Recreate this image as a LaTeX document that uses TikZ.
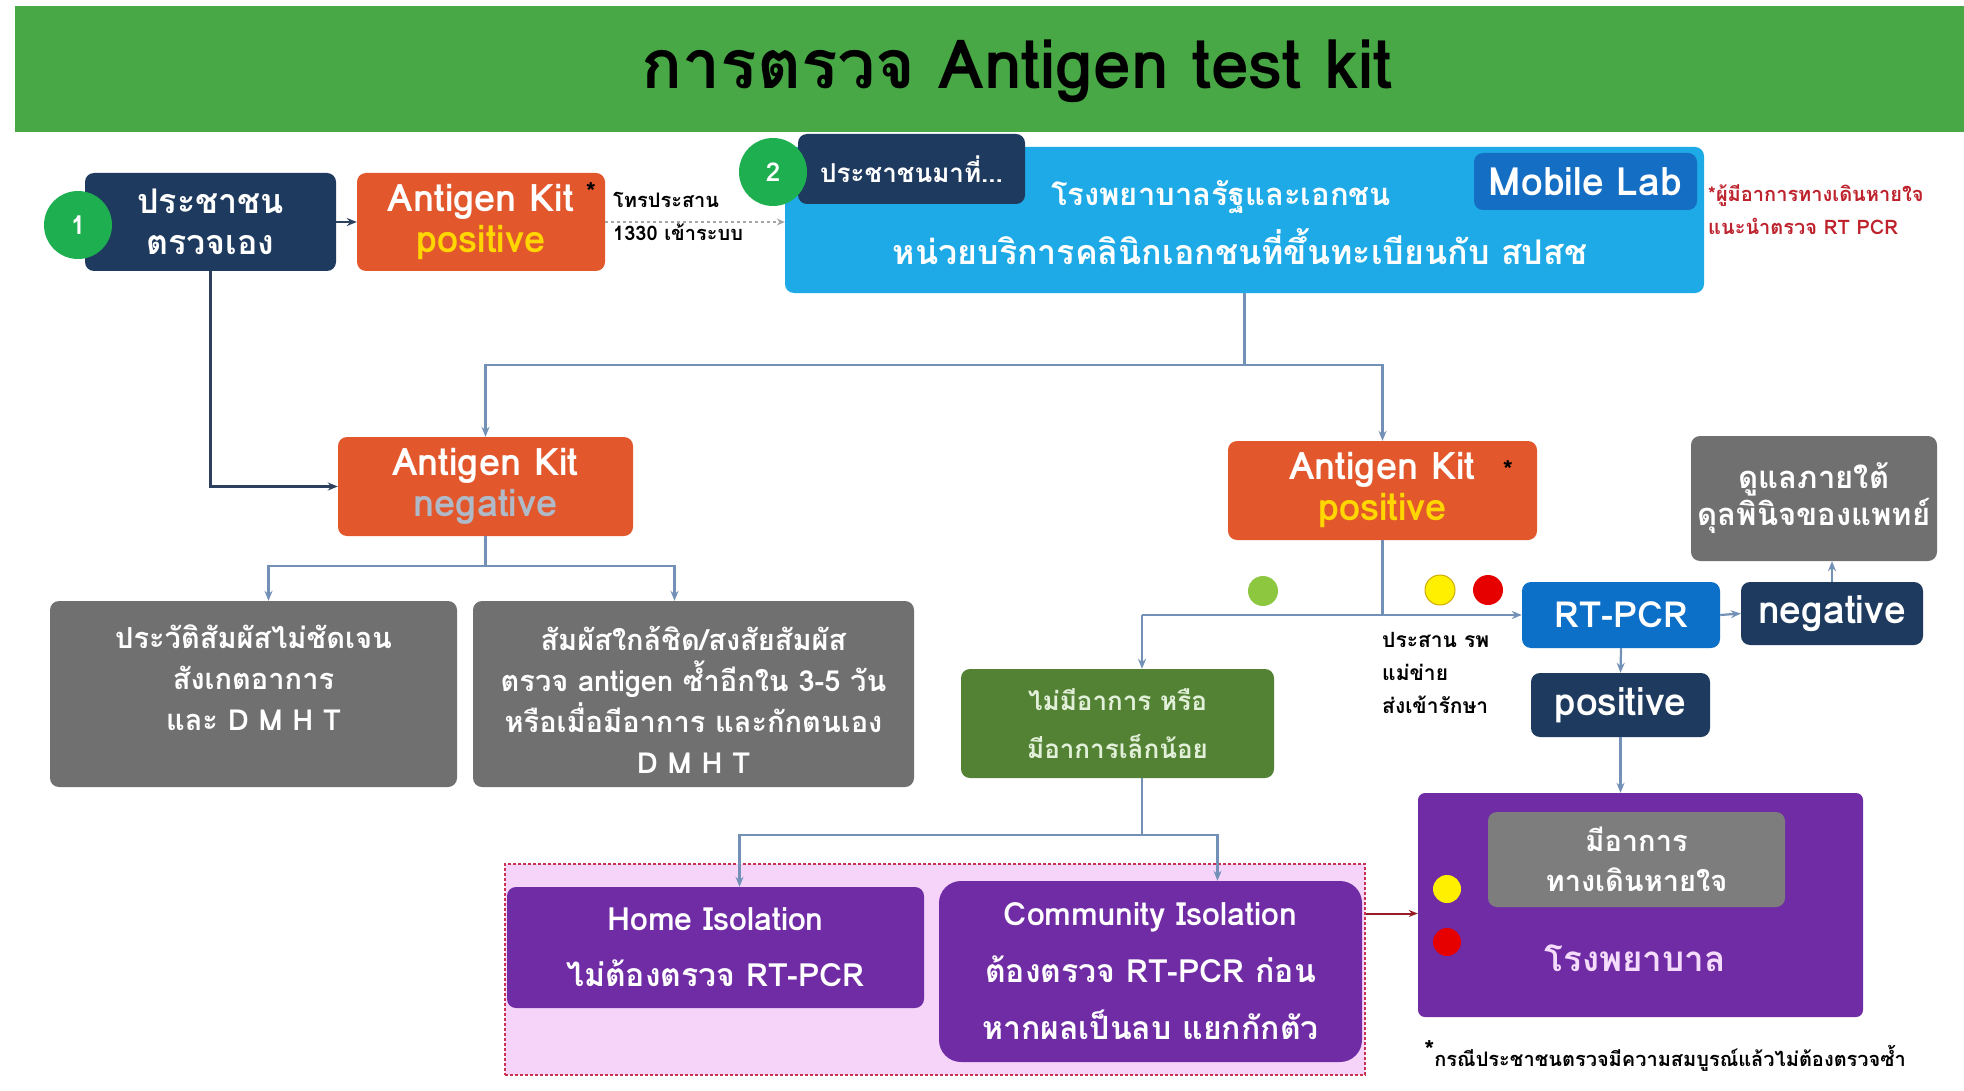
\documentclass[tikz,border=0pt]{standalone}
\usepackage{fontspec}
\setmainfont[Script=Thai]{Loma}
\usetikzlibrary{arrows.meta,calc}
\definecolor{bandgreen}{RGB}{72,168,70}
\definecolor{circgreen}{RGB}{30,175,80}
\definecolor{navy}{RGB}{30,58,95}
\definecolor{kitorange}{RGB}{226,88,44}
\definecolor{kityellow}{RGB}{255,214,0}
\definecolor{neggray}{RGB}{175,185,200}
\definecolor{skyblue}{RGB}{30,170,230}
\definecolor{labblue}{RGB}{20,110,195}
\definecolor{pcrblue}{RGB}{12,112,200}
\definecolor{boxgray}{RGB}{112,112,112}
\definecolor{innergray}{RGB}{125,125,125}
\definecolor{leafgreen}{RGB}{84,130,53}
\definecolor{leaftext}{RGB}{226,240,217}
\definecolor{purp}{RGB}{112,44,165}
\definecolor{pinkbg}{RGB}{246,212,250}
\definecolor{pinkline}{RGB}{200,50,80}
\definecolor{linkblue}{RGB}{115,145,182}
\definecolor{linknavy}{RGB}{45,65,95}
\definecolor{noteRed}{RGB}{190,35,45}
\definecolor{hosptext}{RGB}{245,220,250}
\definecolor{dotgreen}{RGB}{141,198,63}
\definecolor{dotyellow}{RGB}{255,240,0}
\definecolor{dotred}{RGB}{230,0,0}
\begin{document}
\begin{tikzpicture}[x=1pt,y=-1pt,
  box/.style={rounded corners=9pt, inner sep=0pt, align=center, text=white},
  big/.style={font=\bfseries\fontsize{34}{41}\selectfont},
  kit/.style={font=\bfseries\fontsize{38}{41}\selectfont},
  word/.style={font=\bfseries\fontsize{39}{41}\selectfont},
  mid/.style={font=\bfseries\fontsize{29}{41}\selectfont},
  small/.style={font=\bfseries\fontsize{20}{33}\selectfont},
  numcirc/.style={circle, fill=circgreen, minimum size=68pt, inner sep=0pt, text=white, font=\bfseries\fontsize{26}{30}\selectfont},
  dot/.style={circle, minimum size=#1, inner sep=0pt},
  link/.style={draw=linkblue, line width=2.2pt, -{Stealth[length=10pt,width=8pt]}},
  plain/.style={draw=linkblue, line width=2.2pt}
]
\useasboundingbox (0,0) rectangle (1964,1091);
\fill[white] (0,0) rectangle (1964,1091);

% title band
\node[fill=bandgreen, minimum width=1949pt, minimum height=126pt, inner sep=0pt] (band) at (989.5,69) {};
\node[font=\bfseries\fontsize{68}{76}\selectfont, text=black] (title) at (1017,71) {การตรวจ Antigen test kit};

% step 1
\node[box, big, fill=navy, minimum width=251pt, minimum height=98pt] (self) at (210.5,222) {ประชาชน\\ตรวจเอง};
\node[numcirc] (c1) at (78,225) {1};
\node[box, kit, fill=kitorange, minimum width=248pt, minimum height=98pt] (kpos1) at (481,222) {Antigen Kit\\\textcolor{kityellow}{positive}};
\node[font=\bfseries\fontsize{26}{30}\selectfont, text=black, inner sep=0pt] (star1) at (591,192) {*};
\node[small, text=black, align=left, anchor=west, inner sep=0pt] (call) at (613,216) {โทรประสาน\\1330 เข้าระบบ};

% step 2
\node[box, fill=skyblue, minimum width=919pt, minimum height=146pt] (hosps) at (1244.5,220) {};
\node[box, fill=navy, minimum width=227pt, minimum height=70pt, font=\bfseries\fontsize{26}{30}\selectfont] (come) at (911.5,169) {ประชาชนมาที่...};
\node[numcirc] (c2) at (773,172) {2};
\node[box, word, fill=labblue, minimum width=223pt, minimum height=57pt] (lab) at (1585.5,181.5) {Mobile Lab};
\node[font=\bfseries\fontsize{31}{41}\selectfont, text=white, inner sep=0pt] (hl1) at (1221,197) {โรงพยาบาลรัฐและเอกชน};
\node[big, text=white, inner sep=0pt] (hl2) at (1240,247) {หน่วยบริการคลินิกเอกชนที่ขึ้นทะเบียนกับ สปสช};
\node[small, text=noteRed, align=left, anchor=west, inner sep=0pt] (rednote) at (1708,210) {*ผู้มีอาการทางเดินหายใจ\\แนะนำตรวจ RT PCR};

% negative branch
\node[box, kit, fill=kitorange, minimum width=295pt, minimum height=99pt] (kneg) at (485.5,486.5) {Antigen Kit\\\textcolor{neggray}{negative}};
\node[box, fill=boxgray, minimum width=407pt, minimum height=186pt] (g1) at (253.5,694) {};
\node[mid, text=white, align=center, inner sep=0pt] (g1t) at (253.5,678) {ประวัติสัมผัสไม่ชัดเจน\\สังเกตอาการ\\และ D M H T};
\node[box, fill=boxgray, minimum width=441pt, minimum height=186pt] (g2) at (693.5,694) {};
\node[mid, text=white, align=center, inner sep=0pt] (g2t) at (693.5,700) {สัมผัสใกล้ชิด/สงสัยสัมผัส\\ตรวจ antigen ซ้ำอีกใน 3-5 วัน\\หรือเมื่อมีอาการ และกักตนเอง\\D M H T};

% positive branch
\node[box, kit, fill=kitorange, minimum width=309pt, minimum height=99pt] (kpos2) at (1382.5,490.5) {Antigen Kit\\\textcolor{kityellow}{positive}};
\node[font=\bfseries\fontsize{26}{30}\selectfont, text=black, inner sep=0pt] (star2) at (1508,470) {*};
\node[dot=30pt, fill=dotgreen] (dg) at (1263,591) {};
\node[dot=30pt, fill=dotyellow, draw=kityellow!80!black, line width=1pt] (dy) at (1440,590) {};
\node[dot=30pt, fill=dotred] (dr) at (1488,590) {};
\node[font=\bfseries\fontsize{21}{33}\selectfont, text=black, align=left, anchor=north west, inner sep=0pt] (coord) at (1382,632) {ประสาน รพ\\แม่ข่าย\\ส่งเข้ารักษา};
\node[box, font=\bfseries\fontsize{36}{41}\selectfont, fill=pcrblue, minimum width=198pt, minimum height=66pt] (pcr) at (1621,615) {RT-PCR};
\node[box, word, fill=navy, minimum width=182pt, minimum height=63pt] (neg) at (1832,613.5) {negative};
\node[box, fill=boxgray, minimum width=246pt, minimum height=125pt, font=\bfseries\fontsize{31}{37}\selectfont] (doc) at (1814,498.5) {ดูแลภายใต้\\ดุลพินิจของแพทย์};
\node[box, word, fill=navy, minimum width=179pt, minimum height=64pt] (pos) at (1620.5,705) {positive};

\node[box, fill=leafgreen, minimum width=313pt, minimum height=109pt, text=leaftext, font=\bfseries\fontsize{26}{48}\selectfont] (mild) at (1117.5,723.5) {ไม่มีอาการ หรือ\\มีอาการเล็กน้อย};

% isolation zone
\node[fill=pinkbg, draw=pinkline, densely dashed, line width=1.5pt, minimum width=860pt, minimum height=211pt, inner sep=0pt] (zone) at (935,969.5) {};
\node[box, fill=purp, minimum width=417pt, minimum height=121pt, font=\bfseries\fontsize{32}{56}\selectfont] (home) at (715.5,947.5) {Home Isolation\\ไม่ต้องตรวจ RT-PCR};
\node[box, fill=purp, minimum width=423pt, minimum height=181pt, rounded corners=22pt, font=\bfseries\fontsize{32}{57}\selectfont] (comm) at (1150.5,971.5) {Community Isolation\\ต้องตรวจ RT-PCR ก่อน\\หากผลเป็นลบ แยกกักตัว};

% hospital
\node[box, fill=purp, minimum width=445pt, minimum height=224pt, rounded corners=7pt] (hosp) at (1640.5,905) {};
\node[box, fill=innergray, minimum width=297pt, minimum height=95pt, font=\bfseries\fontsize{29}{40}\selectfont] (resp) at (1636.5,859.5) {มีอาการ\\ทางเดินหายใจ};
\node[font=\bfseries\fontsize{35}{41}\selectfont, text=hosptext, inner sep=0pt] (hospt) at (1635,958) {โรงพยาบาล};
\node[dot=28pt, fill=dotyellow] (hy) at (1447,889) {};
\node[dot=28pt, fill=dotred] (hr) at (1447,942) {};
\node[small, text=black, inner sep=0pt] (foot) at (1665,1056) {\raisebox{0.35em}{\fontsize{26}{26}\selectfont*}กรณีประชาชนตรวจมีความสมบูรณ์แล้วไม่ต้องตรวจซ้ำ};

% connectors
\draw[draw=linknavy, line width=2.2pt, -{Stealth[length=10pt,width=8pt]}] (self.east) -- (kpos1.west);
\draw[draw=gray!70, line width=1.8pt, dashed, -{Stealth[length=8pt,width=7pt]}] (kpos1.east) -- (kpos1.east -| hosps.west);
\draw[draw=linknavy, line width=2.2pt, -{Stealth[length=10pt,width=8pt]}] (self.south) |- (kneg.west);

\coordinate (j0) at ($(hosps.south)+(0,72)$);
\draw[plain] (hosps.south) -- (j0);
\draw[link] (j0) -| (kneg.north);
\draw[link] (j0) -| (kpos2.north);

\coordinate (j1) at ($(kneg.south)+(0,30)$);
\draw[plain] (kneg.south) -- (j1);
\draw[link] (j1) -| ($(g1.north)+(15,0)$);
\draw[link] (j1) -| ($(g2.north)+(-19,0)$);

\coordinate (j2) at (kpos2.south |- pcr.west);
\coordinate (j3) at (mild.north -| 1142,0);
\coordinate (j4) at (j3 |- pcr.west);
\draw[plain] (kpos2.south) -- (j2);
\draw[link] (j4) -- (pcr.west);
\draw[link] (j4) -- (j3);

\draw[link] (pcr.east) -- (neg.west);
\draw[link] (neg.north) -- (neg.north |- doc.south);
\draw[link] (pcr.south) -- (pos.north);
\draw[link] (pos.south) -- (pos.south |- hosp.north);

\coordinate (j5) at (mild.south -| j3);
\coordinate (j6) at ($(j5)+(0,57)$);
\draw[plain] (j5) -- (j6);
\draw[link] (j6) -| ($(home.north)+(24,0)$);
\draw[link] (j6) -| ($(comm.north)+(67,0)$);

\coordinate (z1) at ($(zone.east)+(0,-56)$);
\draw[draw=noteRed!80!black, line width=2pt, -{Stealth[length=9pt,width=7pt]}] (z1) -- (z1 -| hosp.west);
\end{tikzpicture}
\end{document}
